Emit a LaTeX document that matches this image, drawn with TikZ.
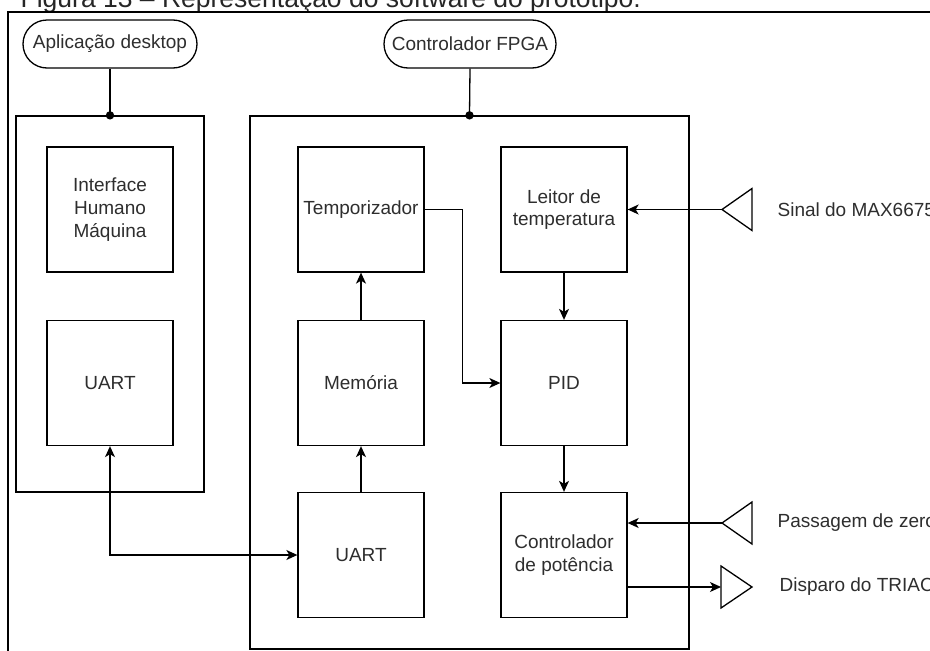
\documentclass[tikz,border=0pt]{standalone}
\usepackage{fontspec}
\setmainfont{Liberation Sans}
\usetikzlibrary{arrows.meta}
\begin{document}
\begin{tikzpicture}[x=1pt,y=-1pt,line width=1.3pt,
  txt/.style={font=\fontsize{19}{22.8}\selectfont,text=black!82},
  box/.style={draw,txt,minimum width=126pt,minimum height=125pt,inner sep=0pt,align=center},
  pill/.style={draw,txt,minimum height=48pt,inner sep=0pt,rounded corners=24pt},
  frame/.style={draw,inner sep=0pt},
  arr/.style={-{Stealth[length=11pt,width=10pt,inset=3pt]}},
  darr/.style={{Stealth[length=11pt,width=10pt,inset=3pt]}-{Stealth[length=11pt,width=10pt,inset=3pt]}},
  lbl/.style={txt,anchor=west,inner sep=0pt}
]
\clip (0,0) rectangle (930,651);
\fill[white] (0,0) rectangle (930,651);
% caption
\node[anchor=base west,inner sep=0pt,font=\fontsize{26.5}{30}\selectfont,text=black!85] (cap) at (20,7.5) {Figura 13 -- Representação do software do protótipo.};
% outer frame
\draw (8,12) rectangle (945,670);
% pills
\node[pill,minimum width=174pt] (pA) at (110,44) {Aplicação desktop};
\node[pill,minimum width=172pt] (pB) at (470,44) {Controlador FPGA};
% group boxes
\node[frame,minimum width=188pt,minimum height=376pt] (desk) at (110,304) {};
\node[frame,minimum width=439pt,minimum height=533pt] (fpga) at (469.5,382.5) {};
\draw (pA.south) -- (desk.north);
\fill (desk.north) circle (4.2pt);
\draw (pB.south) -- (fpga.north);
\fill (fpga.north) circle (4.2pt);
% inner boxes
\node[box] (ihm) at (110,209.5) {Interface\\Humano\\Máquina};
\node[box] (uartL) at (110,383) {UART};
\node[box] (temp) at (361,209.5) {Temporizador};
\node[box] (mem) at (361,383) {Memória};
\node[box] (uartR) at (361,555) {UART};
\node[box] (leit) at (564,209.5) {Leitor de\\temperatura};
\node[box] (pid) at (564,383) {PID};
\node[box] (ctrl) at (564,555) {Controlador\\de potência};
% connectors
\draw[darr] (uartL.south) |- (uartR.west);
\draw[arr] (uartR.north) -- (mem.south);
\draw[arr] (mem.north) -- (temp.south);
\draw[arr] (temp.east) -- ++(38,0) |- (pid.west);
\draw[arr] (leit.south) -- (pid.north);
\draw[arr] (pid.south) -- (ctrl.north);
% signal triangles
\coordinate (t1) at (722,209.5);
\draw (t1) -- (752,188.5) -- (752,230.5) -- cycle;
\coordinate (t2) at (722,523);
\draw (t2) -- (752,502) -- (752,544) -- cycle;
\coordinate (t3) at (721,587);
\draw (t3) -- (721,566) -- (752,587) -- (721,608) -- cycle;
\draw[arr] (t1) -- (leit.east);
\draw[arr] (t2) -- (ctrl.east |- t2);
\draw[arr] (ctrl.east |- t3) -- (t3);
% labels
\node[lbl] (l1) at (777,209.5) {Sinal do MAX6675};
\node[lbl] (l2) at (777,523) {Passagem de zero};
\node[lbl] (l3) at (779,587) {Disparo do TRIAC};
\end{tikzpicture}
\end{document}
